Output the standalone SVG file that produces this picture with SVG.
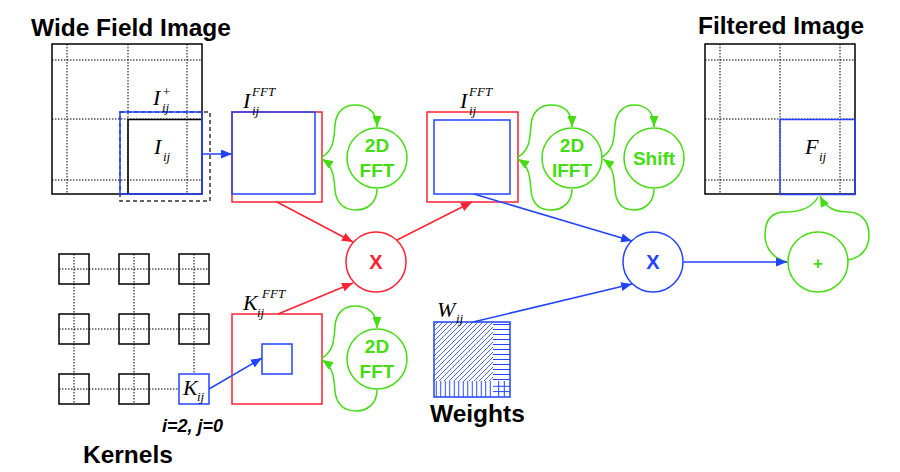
<svg xmlns="http://www.w3.org/2000/svg" width="900" height="472" viewBox="0 0 900 472">
<style>
.title{font-family:"Liberation Sans",Arial,sans-serif;font-weight:bold;font-size:24.5px;fill:#000}
.lab{font-family:"Liberation Serif","Times New Roman",serif;font-style:italic;fill:#000}
.big{font-size:22px}
.sm{font-size:13px}
.blk{fill:none;stroke:#000;stroke-width:1.5}
.dot{fill:none;stroke:#000;stroke-width:1;stroke-dasharray:1.5,1.5}
.red{fill:none;stroke:#ff2233;stroke-width:1.5}
.blu{fill:none;stroke:#2244ff;stroke-width:1.5}
.grn{fill:none;stroke:#44dd11;stroke-width:1.5}
.gtxt{font-family:"Liberation Sans",Arial,sans-serif;font-weight:bold;font-size:19px;fill:#44dd11;text-anchor:middle}
.op{font-family:"Liberation Sans",Arial,sans-serif;font-weight:bold;font-size:20px;text-anchor:middle}
</style>
<defs>
<marker id="ar" markerUnits="userSpaceOnUse" markerWidth="11" markerHeight="9" refX="11" refY="4.5" orient="auto"><path d="M0,0 L11,4.5 L0,9 z" fill="#ff2233"/></marker>
<marker id="ab" markerUnits="userSpaceOnUse" markerWidth="11" markerHeight="9" refX="11" refY="4.5" orient="auto"><path d="M0,0 L11,4.5 L0,9 z" fill="#2244ff"/></marker>
<marker id="ag" markerUnits="userSpaceOnUse" markerWidth="11" markerHeight="9" refX="11" refY="4.5" orient="auto"><path d="M0,0 L11,4.5 L0,9 z" fill="#44dd11"/></marker>
<pattern id="diag" patternUnits="userSpaceOnUse" width="5" height="5"><path d="M-1,1 L1,-1 M0,5 L5,0 M4,6 L6,4" stroke="#2244ff" stroke-width="0.8"/></pattern>
<pattern id="hor" patternUnits="userSpaceOnUse" x="0" y="322" width="10" height="5"><path d="M0,2.5 L10,2.5" stroke="#2244ff" stroke-width="1"/></pattern>
<pattern id="ver" patternUnits="userSpaceOnUse" x="434" y="0" width="4.5" height="10"><path d="M2.25,0 L2.25,10" stroke="#2244ff" stroke-width="1"/></pattern>
</defs>

<g id="wide-field-image">
<text class="title" x="31" y="36">Wide Field Image</text>
<path class="dot" d="M67,44 V194 M128,44 V194 M187,44 V194 M52,60 H202 M52,119 H202 M52,180 H202"/>
<rect class="blk" x="52" y="44" width="150" height="150"/>
<path class="blk" d="M128,194 V119.5 H202"/>
<rect x="120" y="112" width="90" height="89" fill="none" stroke="#333" stroke-width="1.5" stroke-dasharray="4,3"/>
<rect class="blu" x="120" y="112" width="82" height="82"/>
<text class="lab big" x="153" y="105">I</text><text class="lab sm" x="162" y="96">+</text><text class="lab sm" x="162" y="112">ij</text>
<text class="lab big" x="154" y="154">I</text><text class="lab sm" x="163" y="161">ij</text>
</g>

<g id="i-fft">
<rect class="red" x="232" y="112" width="90" height="90"/>
<rect class="blu" x="232" y="112" width="83" height="82"/>
<text class="lab big" x="243" y="108">I</text><text class="lab sm" x="252" y="96">FFT</text><text class="lab sm" x="252" y="115">ij</text>
</g>

<g id="fft1">
<circle class="grn" cx="377" cy="158" r="30"/>
<text class="gtxt" x="377" y="152">2D</text><text class="gtxt" x="377" y="177">FFT</text>
</g>

<g id="i-fft-2">
<rect class="red" x="427" y="112" width="91" height="90"/>
<rect class="blu" x="434" y="120" width="76" height="74"/>
<text class="lab big" x="460" y="108">I</text><text class="lab sm" x="469" y="96">FFT</text><text class="lab sm" x="469" y="115">ij</text>
</g>

<g id="ifft">
<circle class="grn" cx="572" cy="158" r="30"/>
<text class="gtxt" x="572" y="152">2D</text><text class="gtxt" x="572" y="177">IFFT</text>
</g>

<g id="shift">
<circle class="grn" cx="654" cy="158" r="30"/>
<text class="gtxt" x="654" y="165">Shift</text>
</g>

<g id="filtered-image">
<text class="title" x="698" y="34">Filtered Image</text>
<path class="dot" d="M720,44 V194 M780,44 V194 M840,44 V194 M705,60 H855 M705,119 H855 M705,180 H855"/>
<rect class="blk" x="705" y="44" width="150" height="150"/>
<rect class="blu" x="780" y="119.5" width="75" height="75"/>
<text class="lab big" x="805" y="154">F</text><text class="lab sm" x="819" y="161">ij</text>
</g>

<g id="mult1">
<circle class="red" cx="376" cy="262" r="30"/>
<text class="op" x="376" y="269" fill="#ff2233">X</text>
</g>

<g id="mult2">
<circle class="blu" cx="653" cy="262" r="30"/>
<text class="op" x="653" y="269" fill="#2244ff">X</text>
</g>

<g id="sum">
<circle class="grn" cx="818" cy="262" r="30"/>
<text class="op" x="818" y="269" fill="#44dd11" style="font-size:17px">+</text>
</g>

<g id="kernels">
<path class="dot" d="M59,269 H209 M59,329 H209 M59,389 H209 M74,254 V404 M134,254 V404 M194,254 V404"/>
<rect class="blk" x="59" y="254" width="30" height="30"/>
<rect class="blk" x="119" y="254" width="30" height="30"/>
<rect class="blk" x="179" y="254" width="30" height="30"/>
<rect class="blk" x="59" y="314" width="30" height="30"/>
<rect class="blk" x="119" y="314" width="30" height="30"/>
<rect class="blk" x="179" y="314" width="30" height="30"/>
<rect class="blk" x="59" y="374" width="30" height="30"/>
<rect class="blk" x="119" y="374" width="30" height="30"/>
<rect x="179" y="374" width="30" height="30" fill="#fff" stroke="#2244ff" stroke-width="1.5"/>
<text class="lab big" x="183" y="395">K</text><text class="lab sm" x="197" y="401">ij</text>
<text x="162" y="432" style="font-family:'Liberation Sans',Arial,sans-serif;font-weight:bold;font-style:italic;font-size:18px">i=2, j=0</text>
<text class="title" x="83" y="463">Kernels</text>
</g>

<g id="k-fft">
<rect class="red" x="232" y="314" width="90" height="90"/>
<rect class="blu" x="262" y="344" width="30" height="30"/>
<text class="lab big" x="243" y="310">K</text><text class="lab sm" x="262" y="298">FFT</text><text class="lab sm" x="257" y="317">ij</text>
</g>

<g id="fft2">
<circle class="grn" cx="377" cy="359" r="30"/>
<text class="gtxt" x="377" y="353">2D</text><text class="gtxt" x="377" y="378">FFT</text>
</g>

<g id="weights">
<rect x="434" y="322" width="59" height="59" fill="url(#diag)"/>
<rect x="493" y="322" width="17" height="59" fill="url(#hor)"/>
<rect x="434" y="381" width="59" height="16" fill="url(#ver)"/>
<path d="M493,386.3 H510 M493,391.6 H510 M498.7,381 V397 M504.3,381 V397" stroke="#2244ff" stroke-width="1"/>
<rect class="blu" x="434" y="322" width="76" height="75"/>
<text class="lab big" x="437" y="317">W</text><text class="lab sm" x="456" y="323">ij</text>
<text class="title" x="430" y="422">Weights</text>
</g>

<g id="connectors">
<path class="blu" d="M202,154 H232" marker-end="url(#ab)"/>
<path class="red" d="M277,202 L353,242" marker-end="url(#ar)"/>
<path class="red" d="M278,314 L353,283" marker-end="url(#ar)"/>
<path class="red" d="M397,240 L472,202" marker-end="url(#ar)"/>
<path class="blu" d="M474,194 L632,241" marker-end="url(#ab)"/>
<path class="blu" d="M473,322 L632,284" marker-end="url(#ab)"/>
<path class="blu" d="M209,389 L262,358" marker-end="url(#ab)"/>
<path class="grn" d="M322,157 C334,150 334,138 335,125 C336,112 344,105 355,105 C368,105 377,112 377,127" marker-end="url(#ag)"/>
<path class="grn" d="M377,189 C377,202 368,210 356,210 C343,210 336,202 335,190 C334,176 333,166 322,159" marker-end="url(#ag)"/>
<path class="grn" d="M518,157 C530,150 530,138 531,125 C532,112 540,105 551,105 C564,105 572,112 572,127" marker-end="url(#ag)"/>
<path class="grn" d="M572,189 C572,202 563,210 551,210 C538,210 532,202 531,190 C530,176 529,166 518,159" marker-end="url(#ag)"/>
<path class="grn" d="M602,157 C614,150 614,138 615,125 C616,112 624,105 634,105 C646,105 654,112 654,127" marker-end="url(#ag)"/>
<path class="grn" d="M654,189 C654,202 645,210 634,210 C622,210 616,202 615,190 C614,176 613,166 603,159" marker-end="url(#ag)"/>
<path class="grn" d="M322,358 C334,351 334,339 335,326 C336,313 344,306 355,306 C368,306 377,313 377,328" marker-end="url(#ag)"/>
<path class="grn" d="M377,390 C377,403 368,411 356,411 C343,411 336,403 335,391 C334,377 333,367 322,360" marker-end="url(#ag)"/>
<path class="grn" d="M818,197 C812,208 800,212 785,212 C770,212 765,222 765,235 C765,250 775,259 787,262"/>
<path class="grn" d="M848,260 C860,258 869,250 869,235 C869,220 860,212 848,212 C835,212 826,208 820,196" marker-end="url(#ag)"/>
<path class="blu" d="M683,262 H787" marker-end="url(#ab)"/>
</g>
</svg>
